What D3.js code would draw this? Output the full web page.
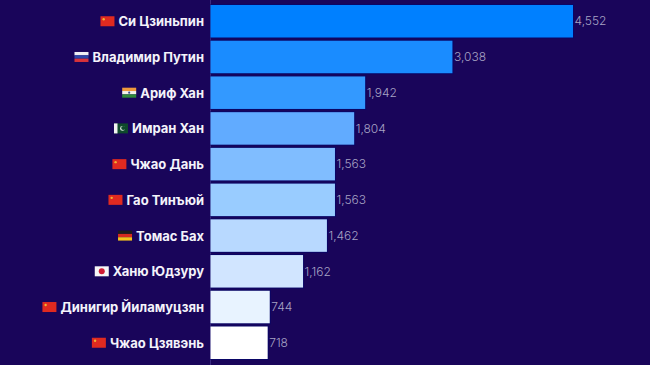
<!DOCTYPE html>
<html>
<head>
<meta charset="utf-8">
<script src="https://cdnjs.cloudflare.com/ajax/libs/d3/7.8.5/d3.min.js"></script>
<style>
  html, body { margin: 0; padding: 0; background: #19055a; }
  svg { display: block; }
  .name { font-family: Inter, sans-serif; font-weight: 700; font-size: 13px; fill: #f4f3fa; }
  .val { font-family: Inter, sans-serif; font-weight: 300; font-size: 12px; fill: #a7a3c4; }
</style>
</head>
<body>
<div id="chart"></div>
<script>
var w = 650;
var h = 365;

var names = ['Си Цзиньпин', 'Владимир Путин', 'Ариф Хан', 'Имран Хан', 'Чжао Дань',
             'Гао Тинъюй', 'Томас Бах', 'Ханю Юдзуру', 'Динигир Йиламуцзян', 'Чжао Цзявэнь'];
var values = [4552, 3038, 1942, 1804, 1563, 1563, 1462, 1162, 744, 718];
var countries = ['cn', 'ru', 'in', 'pk', 'cn', 'cn', 'de', 'jp', 'cn', 'cn'];
var barColors = ['#0080ff', '#1a8cff', '#3399ff', '#61abff', '#80bdff',
                 '#99ccff', '#b8d9ff', '#d1e5ff', '#e8f3ff', '#ffffff'];

var x = d3.scaleLinear().domain([0, 4552]).range([210.5, 573]);
var y = d3.scaleBand().domain(names).range([5, 359]).paddingInner(0.09);

var fmt = d3.format(',');

var svg = d3.select('#chart')
  .append('svg')
  .attr('width', w)
  .attr('height', h);

// thin axis line behind the bars
svg.append('line')
  .attr('x1', x(0)).attr('x2', x(0))
  .attr('y1', 0).attr('y2', h)
  .attr('stroke', '#3a2a80')
  .attr('stroke-width', 1);

// darker halo in the gaps between bars
svg.selectAll('.halo')
  .data(names)
  .enter()
  .append('rect')
  .attr('class', 'halo')
  .attr('x', x(0))
  .attr('y', d => y(d) - 1)
  .attr('width', (d, i) => x(values[i]) - x(0) + 1)
  .attr('height', y.bandwidth() + 2)
  .attr('fill', '#0a0666');

svg.selectAll('.bar')
  .data(names)
  .enter()
  .append('rect')
  .attr('class', 'bar')
  .attr('x', x(0))
  .attr('y', d => y(d))
  .attr('width', (d, i) => x(values[i]) - x(0))
  .attr('height', y.bandwidth())
  .attr('fill', (d, i) => barColors[i]);

svg.selectAll('.val')
  .data(names)
  .enter()
  .append('text')
  .attr('class', 'val')
  .attr('x', (d, i) => x(values[i]) + 1.5)
  .attr('y', d => y(d) + y.bandwidth() / 2)
  .attr('dy', '0.35em')
  .text((d, i) => fmt(values[i]));

var labels = svg.selectAll('.name')
  .data(names)
  .enter()
  .append('text')
  .attr('class', 'name')
  .attr('x', 204)
  .attr('y', d => y(d) + y.bandwidth() / 2 + 0.5)
  .attr('dy', '0.35em')
  .attr('text-anchor', 'end')
  .text(d => d);

// flags sit just left of each label
function drawFlag(g, c) {
  function stripes(cols) {
    cols.forEach(function(col, i) {
      g.append('rect').attr('y', i * 10 / cols.length).attr('width', 14).attr('height', 10 / cols.length).attr('fill', col);
    });
  }
  if (c == 'cn') {
    stripes(['#e02a20']);
    g.append('circle').attr('cx', 3.2).attr('cy', 3).attr('r', 1.2).attr('fill', '#f2b233');
  } else if (c == 'ru') {
    stripes(['#eeeef4', '#2c46a8', '#d8323a']);
  } else if (c == 'in') {
    stripes(['#f09a3c', '#f4f2ea', '#2f8a3a']);
    g.append('circle').attr('cx', 7).attr('cy', 5).attr('r', 1.1).attr('fill', '#3a4a90');
  } else if (c == 'pk') {
    stripes(['#0e4a2c']);
    g.append('rect').attr('width', 3.5).attr('height', 10).attr('fill', '#f2f2f2');
    g.append('circle').attr('cx', 8.5).attr('cy', 5).attr('r', 2.4).attr('fill', '#e8efe9');
    g.append('circle').attr('cx', 9.3).attr('cy', 4.6).attr('r', 2.1).attr('fill', '#0e4a2c');
  } else if (c == 'de') {
    stripes(['#1c1c1c', '#d42a20', '#f5c21c']);
  } else if (c == 'jp') {
    stripes(['#f6f6f6']);
    g.append('circle').attr('cx', 7).attr('cy', 5).attr('r', 3).attr('fill', '#d01c34');
  }
}

labels.each(function(d, i) {
  var len = this.getComputedTextLength();
  var g = svg.append('g')
    .attr('transform', 'translate(' + (204 - len - 18) + ',' + (y(d) + y.bandwidth() / 2 - 5) + ')');
  drawFlag(g, countries[i]);
});
</script>
</body>
</html>
